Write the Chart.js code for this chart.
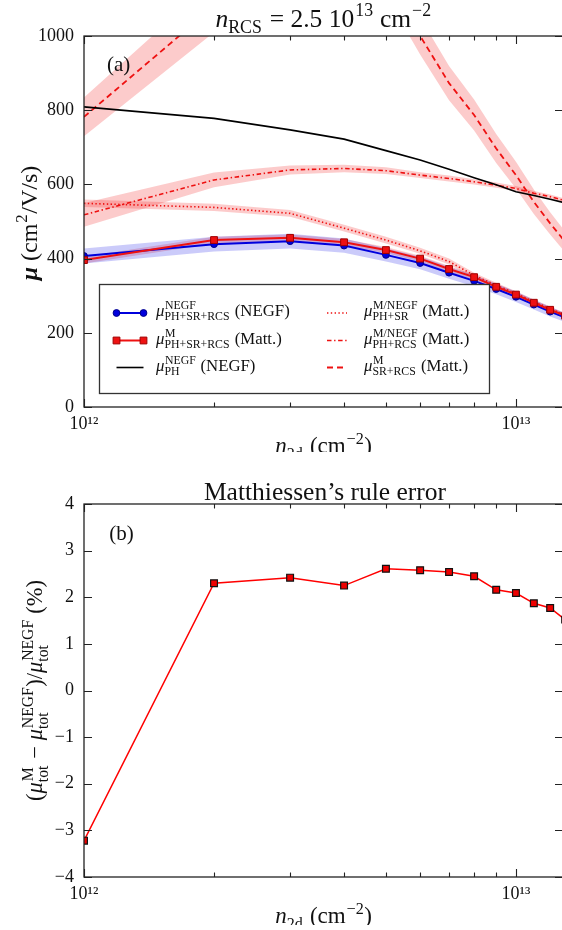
<!DOCTYPE html>
<html><head><meta charset="utf-8">
<script src="https://cdn.jsdelivr.net/npm/chart.js@4.4.1/dist/chart.umd.min.js"></script>
<style>
html,body{margin:0;padding:0;overflow:hidden;background:#fff;width:562px;height:930px;position:relative}
#wA{position:absolute;left:0;top:0;width:600px;height:452px;overflow:hidden}
#wB{position:absolute;left:0;top:470px;width:600px;height:455px;overflow:hidden}
canvas{display:block}
</style></head><body>
<div id="wA"><canvas id="cA" width="600" height="452"></canvas></div>
<div id="wB"><canvas id="cB" width="600" height="455"></canvas></div>
<script>
// ---------------- DATA ----------------
const n2d        = [1e12, 2e12, 3e12, 4e12, 5e12, 6e12, 7e12, 8e12, 9e12, 1e13, 1.1e13, 1.2e13, 1.3e13];
const muNegfTot  = [407, 439, 447, 435, 410, 388, 362, 340, 318, 297, 276, 257, 241];
const muMattTot  = [396, 450, 456, 444, 423, 400, 372, 350, 324, 303, 281, 262, 246];
const muPh       = [809, 778, 747, 722, 691, 666, 641, 618, 599, 580, 570, 560, 550];
const muPhSr     = [549, 538, 522, 482, 450, 421, 392, 355, 328, 306, 284, 265, 248];
const muPhRcs    = [518, 612, 639, 643, 637, 625, 616, 607, 598, 589, 576, 567, 556];
const muSrRcs    = [782, 1080, 1260, 1280, 1180, 1000, 873, 787, 697, 625, 553, 495, 445];
// uncertainty half-widths of the shaded bands
const bandNegfTot = [20, 20, 20, 19, 18, 17, 16, 15, 14, 14, 13, 13, 12];
const bandMattTot = [9, 9, 9, 9, 8, 8, 8, 7, 7, 7, 6, 6, 6];
const bandPhSr    = [10, 10, 9, 9, 9, 8, 8, 7, 7, 6, 6, 6, 5];
const bandPhRcs   = [32, 20, 12, 10, 9, 8, 8, 7, 7, 7, 6, 6, 6];
const bandSrRcs   = [52, 70, 80, 80, 70, 50, 46, 42, 39, 36, 33, 30, 28];
// Matthiessen's rule error (%)
const errPct     = [-3.22, 2.30, 2.42, 2.25, 2.61, 2.58, 2.54, 2.45, 2.16, 2.09, 1.87, 1.77, 1.52];
// ticks
const xTickVals  = [1e12, 2e12, 3e12, 4e12, 5e12, 6e12, 7e12, 8e12, 9e12, 1e13];
const xTickLabels = {"1000000000000": "10¹²", "10000000000000": "10¹³"};
const yTicksA    = [0, 200, 400, 600, 800, 1000];
const yTicksB    = [-4, -3, -2, -1, 0, 1, 2, 3, 4];

// ---------------- STYLE ----------------
const SERIF = '"Liberation Serif","DejaVu Serif","Times New Roman",serif';
const RED = '#ee1111', BLUE = '#0000dd';
const ST = {
  negf:  {color: BLUE, width: 2, point: 'circle', r: 3.4, pfill: BLUE, pedge: '#00008a'},
  matt:  {color: RED, width: 2, point: 'rect', r: 4.8, pfill: RED, pedge: '#a00000'},
  ph:    {color: '#000', width: 1.6, dash: []},
  phSr:  {color: RED, width: 1.6, dash: [1.4, 2.4]},
  phRcs: {color: RED, width: 1.6, dash: [4.5, 2.6, 1.4, 2.6]},
  srRcs: {color: RED, width: 1.8, dash: [6, 4]}
};
const RED_BAND = 'rgba(240,20,20,0.22)', BLUE_BAND = 'rgba(20,20,230,0.22)';

Chart.defaults.font.family = SERIF;
Chart.defaults.color = '#111';

// ---------------- rich text helpers ----------------
function fnt(sz, it, b) { return (it ? 'italic ' : '') + (b ? 'bold ' : '') + sz.toFixed(1) + 'px ' + SERIF; }
const SC = 0.7;
function pw(ctx, p, sz) {
  if (p.t !== undefined) { ctx.font = fnt(sz, p.it, p.b); return ctx.measureText(p.t).width; }
  ctx.font = fnt(sz * SC, false);
  const a = p.sup ? ctx.measureText(p.sup).width : 0, b = p.sub ? ctx.measureText(p.sub).width : 0;
  return Math.max(a, b) + sz * 0.06;
}
function rich(ctx, parts, x, y, sz, align) {
  let w = 0; for (const p of parts) w += pw(ctx, p, sz);
  let cx = align === 'center' ? x - w / 2 : align === 'right' ? x - w : x;
  ctx.save(); ctx.fillStyle = '#111'; ctx.textAlign = 'left'; ctx.textBaseline = 'alphabetic';
  for (const p of parts) {
    const ww = pw(ctx, p, sz);
    if (p.t !== undefined) { ctx.font = fnt(sz, p.it, p.b); ctx.fillText(p.t, cx, y); }
    else {
      ctx.font = fnt(sz * SC, false);
      if (p.sup) ctx.fillText(p.sup, cx + sz * 0.04, y - sz * 0.40);
      if (p.sub) ctx.fillText(p.sub, cx, y + sz * 0.25);
    }
    cx += ww;
  }
  ctx.restore(); return w;
}
function richRot(ctx, parts, x, y, sz) {
  ctx.save(); ctx.translate(x, y); ctx.rotate(-Math.PI / 2); rich(ctx, parts, 0, 0, sz, 'center'); ctx.restore();
}
function marker(ctx, st, x, y) {
  ctx.save(); ctx.fillStyle = st.pfill; ctx.strokeStyle = st.pedge; ctx.lineWidth = 1; ctx.setLineDash([]);
  ctx.beginPath();
  if (st.point === 'circle') ctx.arc(x, y, st.r, 0, Math.PI * 2);
  else { const s = st.r * Math.SQRT1_2; ctx.rect(x - s, y - s, 2 * s, 2 * s); }
  ctx.fill(); ctx.stroke(); ctx.restore();
}

// ---------------- frame / ticks plugin ----------------
const framePlugin = {
  id: 'frame',
  afterDatasetsDraw(chart) {
    const {ctx, chartArea: a, scales: {x, y}} = chart;
    ctx.save();
    ctx.strokeStyle = '#222'; ctx.lineWidth = 1.3;
    ctx.strokeRect(a.left, a.top, a.right - a.left, a.bottom - a.top);
    ctx.lineWidth = 1.1; ctx.beginPath();
    for (const t of x.ticks) {
      const px = Math.round(x.getPixelForValue(t.value)) + 0.5;
      const lg = Math.log10(t.value), major = Math.abs(lg - Math.round(lg)) < 1e-9;
      const L = major ? 8 : 4.5;
      ctx.moveTo(px, a.bottom); ctx.lineTo(px, a.bottom - L);
      ctx.moveTo(px, a.top); ctx.lineTo(px, a.top + L);
    }
    for (const t of y.ticks) {
      const py = Math.round(y.getPixelForValue(t.value)) + 0.5;
      ctx.moveTo(a.left, py); ctx.lineTo(a.left + 8, py);
      ctx.moveTo(a.right, py); ctx.lineTo(a.right - 8, py);
    }
    ctx.stroke(); ctx.restore();
  }
};

function pts(vals) { return n2d.map((x, i) => ({x, y: vals[i]})); }
function lineDs(vals, st, order) {
  return {data: pts(vals), borderColor: st.color, borderWidth: st.width, borderDash: st.dash || [],
    pointRadius: st.point ? st.r : 0, pointStyle: st.point || 'circle',
    pointBackgroundColor: st.pfill, pointBorderColor: st.pedge, pointBorderWidth: 1,
    fill: false, tension: 0, order};
}
function bandDs(vals, hw, color) {
  return [
    {data: pts(vals.map((v, i) => v - hw[i])), borderWidth: 0, pointRadius: 0, fill: false, order: 10},
    {data: pts(vals.map((v, i) => v + hw[i])), borderWidth: 0, pointRadius: 0, fill: '-1', backgroundColor: color, order: 10}
  ];
}
const X_MAX = 1.285e13;
function xScale(h) {
  return {type: 'logarithmic', min: 1e12, max: X_MAX,
    afterBuildTicks: s => { s.ticks = xTickVals.map(v => ({value: v})); },
    afterFit: s => { s.height = h; },
    grid: {display: false, drawTicks: false}, border: {display: false},
    ticks: {autoSkip: false, maxRotation: 0, padding: 6, color: '#111', font: {size: 18},
      callback: v => xTickLabels[String(v)] || ''}};
}
function yScale(min, max, ticks, fmt) {
  return {type: 'linear', min, max,
    afterBuildTicks: s => { s.ticks = ticks.map(v => ({value: v})); },
    afterFit: s => { s.width = 84; },
    grid: {display: false, drawTicks: false}, border: {display: false},
    ticks: {padding: 10, color: '#111', font: {size: 18}, callback: fmt}};
}
const MU = {t: 'μ', it: true};

// ---------------- chart (a) ----------------
const legendEntries = [
  {st: 'negf',  col: 0, row: 0, parts: [MU, {sup: 'NEGF', sub: 'PH+SR+RCS'}, {t: ' (NEGF)'}]},
  {st: 'matt',  col: 0, row: 1, parts: [MU, {sup: 'M', sub: 'PH+SR+RCS'}, {t: ' (Matt.)'}]},
  {st: 'ph',    col: 0, row: 2, parts: [MU, {sup: 'NEGF', sub: 'PH'}, {t: ' (NEGF)'}]},
  {st: 'phSr',  col: 1, row: 0, parts: [MU, {sup: 'M/NEGF', sub: 'PH+SR'}, {t: ' (Matt.)'}]},
  {st: 'phRcs', col: 1, row: 1, parts: [MU, {sup: 'M/NEGF', sub: 'PH+RCS'}, {t: ' (Matt.)'}]},
  {st: 'srRcs', col: 1, row: 2, parts: [MU, {sup: 'M', sub: 'SR+RCS'}, {t: ' (Matt.)'}]}
];
const textA = {
  id: 'textA',
  afterDraw(chart) {
    const ctx = chart.ctx;
    rich(ctx, [{t: 'n', it: true}, {sub: 'RCS'}, {t: ' = 2.5 10'}, {sup: '13'}, {t: ' cm'}, {sup: '−2'}], 323.5, 26.5, 25.5, 'center');
    rich(ctx, [{t: '(a)'}], 118.7, 71, 21, 'center');
    richRot(ctx, [{t: 'μ', it: true, b: true}, {t: ' (cm'}, {sup: '2'}, {t: '/V/s)'}], 37, 223, 24);
    rich(ctx, [{t: 'n', it: true}, {sub: '2d'}, {t: ' (cm'}, {sup: '−2'}, {t: ')'}], 323.5, 453, 23, 'center');
    // legend
    ctx.save();
    ctx.fillStyle = '#fff'; ctx.fillRect(99, 284, 390, 109);
    ctx.strokeStyle = '#333'; ctx.lineWidth = 1.3; ctx.strokeRect(99.5, 284.5, 390, 109);
    ctx.restore();
    const rowsY = [316, 343.5, 370.5];
    const cols = [{x1: 116.5, x2: 143.5, tx: 156}, {x1: 327, x2: 347, tx: 364}];
    for (const e of legendEntries) {
      const st = ST[e.st], c = cols[e.col], by = rowsY[e.row], ly = by - 3;
      ctx.save(); ctx.strokeStyle = st.color; ctx.lineWidth = st.width; ctx.setLineDash(st.dash || []);
      ctx.beginPath(); ctx.moveTo(c.x1, ly); ctx.lineTo(c.x2, ly); ctx.stroke(); ctx.restore();
      if (st.point) { marker(ctx, st, c.x1, ly); marker(ctx, st, c.x2, ly); }
      rich(ctx, e.parts, c.tx, by, 16.8, 'left');
    }
  }
};
new Chart(document.getElementById('cA'), {
  type: 'line',
  data: {datasets: [
    lineDs(muMattTot, ST.matt, 1),
    lineDs(muNegfTot, ST.negf, 2),
    lineDs(muPh, ST.ph, 3),
    lineDs(muPhSr, ST.phSr, 4),
    lineDs(muPhRcs, ST.phRcs, 5),
    lineDs(muSrRcs, ST.srRcs, 6),
    ...bandDs(muNegfTot, bandNegfTot, BLUE_BAND),
    ...bandDs(muMattTot, bandMattTot, RED_BAND),
    ...bandDs(muPhSr, bandPhSr, RED_BAND),
    ...bandDs(muPhRcs, bandPhRcs, RED_BAND),
    ...bandDs(muSrRcs, bandSrRcs, RED_BAND)
  ]},
  options: {
    responsive: false, animation: false, events: [],
    layout: {padding: {top: 36, right: 37, left: 0, bottom: 0}},
    plugins: {legend: {display: false}, tooltip: {enabled: false}, title: {display: false}},
    scales: {x: xScale(452 - 407), y: yScale(0, 1000, yTicksA, v => String(v))}
  },
  plugins: [framePlugin, textA]
});

// ---------------- chart (b) ----------------
const textB = {
  id: 'textB',
  afterDraw(chart) {
    const ctx = chart.ctx;
    rich(ctx, [{t: 'Matthiessen’s rule error'}], 325, 30, 25.5, 'center');
    rich(ctx, [{t: '(b)'}], 121.5, 70, 21, 'center');
    richRot(ctx, [{t: '('}, MU, {sup: 'M', sub: 'tot'}, {t: ' − '}, MU, {sup: 'NEGF', sub: 'tot'}, {t: ')/'}, MU, {sup: 'NEGF', sub: 'tot'}, {t: ' (%)'}], 42, 220.5, 22.5);
    rich(ctx, [{t: 'n', it: true}, {sub: '2d'}, {t: ' (cm'}, {sup: '−2'}, {t: ')'}], 323.5, 453, 23, 'center');
  }
};
new Chart(document.getElementById('cB'), {
  type: 'line',
  data: {datasets: [{
    data: pts(errPct), borderColor: '#ff0000', borderWidth: 1.5, tension: 0, fill: false,
    pointStyle: 'rect', pointRadius: 4.8, pointBackgroundColor: '#ee0000', pointBorderColor: '#111', pointBorderWidth: 1.2
  }]},
  options: {
    responsive: false, animation: false, events: [],
    layout: {padding: {top: 34, right: 37, left: 0, bottom: 0}},
    plugins: {legend: {display: false}, tooltip: {enabled: false}, title: {display: false}},
    scales: {x: xScale(455 - 407), y: yScale(-4, 4, yTicksB, v => (v < 0 ? '−' + Math.abs(v) : String(v)))}
  },
  plugins: [framePlugin, textB]
});
</script>
</body></html>
